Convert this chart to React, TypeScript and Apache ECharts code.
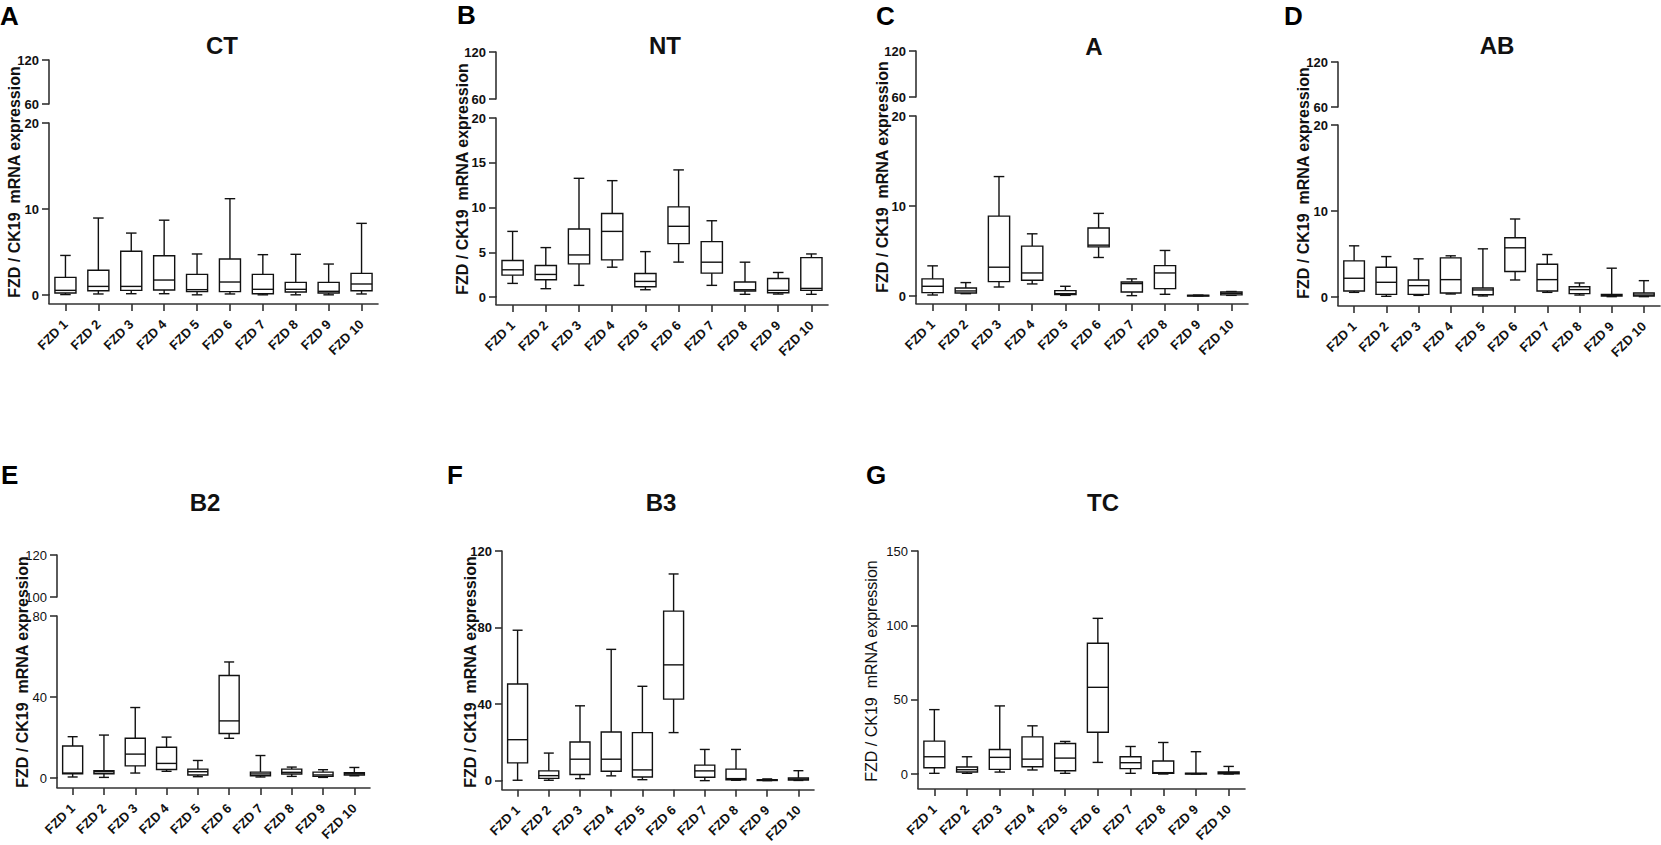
import React, { useEffect, useRef } from "react";
import * as echarts from "echarts";

const categories = ["FZD 1", "FZD 2", "FZD 3", "FZD 4", "FZD 5", "FZD 6", "FZD 7", "FZD 8", "FZD 9", "FZD 10"];

// each box: [min, Q1, median, Q3, max]
const ctBoxes = [
  [0.05, 0.23, 0.54, 2.05, 4.6],
  [0.12, 0.5, 1.0, 2.87, 8.95],
  [0.15, 0.54, 1.0, 5.08, 7.2],
  [0.15, 0.58, 1.74, 4.57, 8.7],
  [0.02, 0.39, 0.62, 2.4, 4.77],
  [0.12, 0.39, 1.51, 4.19, 11.2],
  [0.02, 0.15, 0.66, 2.4, 4.69],
  [0.02, 0.35, 0.66, 1.47, 4.73],
  [0.02, 0.23, 0.43, 1.47, 3.6],
  [0.12, 0.5, 1.28, 2.52, 8.33],
];
const ntBoxes = [
  [1.52, 2.44, 3.04, 4.07, 7.33],
  [0.93, 1.93, 2.52, 3.52, 5.52],
  [1.3, 3.7, 4.7, 7.59, 13.26],
  [3.33, 4.15, 7.33, 9.33, 13.0],
  [0.81, 1.15, 1.74, 2.63, 5.07],
  [3.9, 5.96, 7.9, 10.07, 14.2],
  [1.3, 2.67, 3.89, 6.19, 8.52],
  [0.3, 0.67, 0.81, 1.67, 3.89],
  [0.33, 0.48, 0.74, 2.07, 2.74],
  [0.3, 0.74, 0.96, 4.4, 4.81],
];
const aBoxes = [
  [0.11, 0.37, 1.08, 1.9, 3.35],
  [0.26, 0.33, 0.56, 0.89, 1.49],
  [1.0, 1.6, 3.2, 8.88, 13.27],
  [1.34, 1.75, 2.56, 5.54, 6.91],
  [0.07, 0.15, 0.26, 0.6, 1.08],
  [4.28, 5.46, 5.65, 7.55, 9.18],
  [0.04, 0.45, 1.38, 1.56, 1.9],
  [0.19, 0.82, 2.56, 3.38, 5.06],
  [0.0, 0.03, 0.05, 0.08, 0.1],
  [0.07, 0.12, 0.3, 0.45, 0.5],
];
const abBoxes = [
  [0.54, 0.7, 2.18, 4.2, 5.95],
  [0.08, 0.31, 1.71, 3.46, 4.7],
  [0.19, 0.31, 1.32, 1.98, 4.44],
  [0.35, 0.47, 2.02, 4.55, 4.79],
  [0.12, 0.27, 0.82, 1.05, 5.6],
  [1.98, 2.96, 5.72, 6.89, 9.07],
  [0.54, 0.7, 2.02, 3.81, 4.94],
  [0.23, 0.39, 0.86, 1.2, 1.63],
  [0.04, 0.12, 0.2, 0.31, 3.35],
  [0.04, 0.12, 0.23, 0.47, 1.9],
];
const b2Boxes = [
  [0.5, 2.1, 2.45, 15.8, 20.4],
  [0.3, 2.1, 3.1, 3.6, 21.2],
  [2.45, 6.0, 11.8, 19.6, 34.8],
  [3.3, 4.2, 7.2, 15.2, 20.2],
  [0.65, 1.47, 3.1, 4.4, 8.65],
  [19.6, 22.0, 28.2, 50.6, 57.3],
  [0.5, 1.1, 2.0, 2.9, 11.1],
  [0.8, 2.0, 2.8, 4.4, 5.4],
  [0.3, 0.8, 1.5, 2.9, 4.1],
  [1.1, 1.5, 2.1, 2.6, 5.2],
];
const b3Boxes = [
  [0.2, 9.3, 21.4, 50.5, 78.6],
  [0.2, 1.2, 2.6, 5.1, 14.4],
  [1.05, 3.2, 11.2, 20.2, 39.1],
  [2.5, 4.9, 11.2, 25.4, 68.6],
  [0.5, 1.9, 5.6, 25.1, 49.3],
  [25.1, 42.6, 60.5, 88.6, 108],
  [0.0, 1.75, 5.1, 8.1, 16.3],
  [0.2, 0.5, 1.05, 6.0, 16.3],
  [0.0, 0.2, 0.35, 0.5, 0.9],
  [0.1, 0.35, 0.8, 1.4, 5.2],
];
const tcBoxes = [
  [0.45, 4.2, 11.6, 22.1, 43.3],
  [0.45, 1.3, 2.9, 4.7, 11.6],
  [1.3, 3.1, 11.2, 16.5, 45.8],
  [2.7, 4.9, 10.0, 25.0, 32.4],
  [0.45, 2.2, 10.7, 20.5, 21.9],
  [7.8, 28.1, 58.3, 87.9, 104.7],
  [0.45, 3.6, 7.6, 11.6, 18.5],
  [0.0, 0.45, 0.9, 8.7, 21.2],
  [0.0, 0.1, 0.3, 0.5, 15.0],
  [0.0, 0.2, 0.9, 1.3, 5.1],
];

// tick labels (lower / main segment and the upper segment of the broken axes)
const ctTicks = [0, 10, 20];
const ntTicks = [0, 5, 10, 15, 20];
const aTicks = [0, 10, 20];
const abTicks = [0, 10, 20];
const b2Ticks = [0, 40, 80];
const b3Ticks = [0, 40, 80, 120];
const tcTicks = [0, 50, 100, 150];
const upperTicks = [60, 120];
const b2UpperTicks = [100, 120];

const yAxisTitle = "FZD / CK19  mRNA expression";
const FONT = '"Liberation Sans", Arial, Helvetica, sans-serif';
const INK = "#111";
const AXIS = "#333";
const AXIS_W = 1.6;

type Panel = {
  letter: string;
  title: string;
  boxes: number[][];
  ticks: number[];
  upper?: { ticks: number[]; topY: number; bottomY: number };
  yx: number;
  xEnd: number;
  xAxisY: number;
  topY: number;
  zeroY: number;
  titlePos: [number, number];
  letterPos: [number, number];
  yTitlePos: [number, number];
  boldLabels: boolean;
  boldYTitle: boolean;
};

const panels: Panel[] = [
  { letter: "A", title: "CT", boxes: ctBoxes, ticks: ctTicks, upper: { ticks: upperTicks, topY: 60, bottomY: 104 },
    yx: 49, xEnd: 378, xAxisY: 304, topY: 123, zeroY: 295, titlePos: [222, 45], letterPos: [0, 16], yTitlePos: [14, 182], boldLabels: true, boldYTitle: true },
  { letter: "B", title: "NT", boxes: ntBoxes, ticks: ntTicks, upper: { ticks: upperTicks, topY: 52, bottomY: 99 },
    yx: 496, xEnd: 828, xAxisY: 305, topY: 118, zeroY: 297, titlePos: [665, 45], letterPos: [457, 15], yTitlePos: [462, 179], boldLabels: true, boldYTitle: true },
  { letter: "C", title: "A", boxes: aBoxes, ticks: aTicks, upper: { ticks: upperTicks, topY: 51, bottomY: 97 },
    yx: 916, xEnd: 1248, xAxisY: 304, topY: 116, zeroY: 296, titlePos: [1094, 46], letterPos: [876, 16], yTitlePos: [882, 177], boldLabels: true, boldYTitle: true },
  { letter: "D", title: "AB", boxes: abBoxes, ticks: abTicks, upper: { ticks: upperTicks, topY: 62, bottomY: 107 },
    yx: 1338, xEnd: 1660, xAxisY: 306, topY: 125, zeroY: 297, titlePos: [1497, 45], letterPos: [1284, 16], yTitlePos: [1303, 183], boldLabels: true, boldYTitle: true },
  { letter: "E", title: "B2", boxes: b2Boxes, ticks: b2Ticks, upper: { ticks: b2UpperTicks, topY: 555, bottomY: 597 },
    yx: 57, xEnd: 370, xAxisY: 788, topY: 616, zeroY: 778, titlePos: [205, 502], letterPos: [1, 475], yTitlePos: [22, 672], boldLabels: false, boldYTitle: true },
  { letter: "F", title: "B3", boxes: b3Boxes, ticks: b3Ticks,
    yx: 502, xEnd: 814, xAxisY: 790, topY: 551, zeroY: 781, titlePos: [661, 502], letterPos: [447, 475], yTitlePos: [470, 672], boldLabels: true, boldYTitle: true },
  { letter: "G", title: "TC", boxes: tcBoxes, ticks: tcTicks,
    yx: 918, xEnd: 1245, xAxisY: 789, topY: 551, zeroY: 774, titlePos: [1103, 502], letterPos: [866, 475], yTitlePos: [871, 671], boldLabels: false, boldYTitle: false },
];

function renderBox(params: any, api: any) {
  const i = api.value(0);
  const pMin = api.coord([i, api.value(1)]);
  const pQ1 = api.coord([i, api.value(2)]);
  const pMed = api.coord([i, api.value(3)]);
  const pQ3 = api.coord([i, api.value(4)]);
  const pMax = api.coord([i, api.value(5)]);
  const band = api.size([1, 0])[0];
  const bw = band * 0.64;
  const cw = band * 0.32;
  const x = pMed[0];
  const st = { stroke: INK, lineWidth: 1.4, fill: "none" };
  return {
    type: "group",
    children: [
      { type: "line", shape: { x1: x, y1: pMin[1], x2: x, y2: pQ1[1] }, style: st },
      { type: "line", shape: { x1: x, y1: pQ3[1], x2: x, y2: pMax[1] }, style: st },
      { type: "line", shape: { x1: x - cw / 2, y1: pMin[1], x2: x + cw / 2, y2: pMin[1] }, style: st },
      { type: "line", shape: { x1: x - cw / 2, y1: pMax[1], x2: x + cw / 2, y2: pMax[1] }, style: st },
      { type: "rect", shape: { x: x - bw / 2, y: pQ3[1], width: bw, height: Math.max(pQ1[1] - pQ3[1], 0.8) }, style: { stroke: INK, lineWidth: 1.4, fill: "#fff" } },
      { type: "line", shape: { x1: x - bw / 2, y1: pMed[1], x2: x + bw / 2, y2: pMed[1] }, style: st },
    ],
  };
}

function buildOption() {
  const grid: any[] = [];
  const xAxis: any[] = [];
  const yAxis: any[] = [];
  const series: any[] = [];
  const graphic: any[] = [];

  const axisLine = { show: true, onZero: false, lineStyle: { color: AXIS, width: AXIS_W } };
  const axisTick = { show: true, length: 7, lineStyle: { color: AXIS, width: AXIS_W } };

  panels.forEach((p) => {
    const yLabel = {
      show: true,
      color: INK,
      fontSize: 13,
      fontWeight: p.boldLabels ? "bold" : "normal",
      fontFamily: FONT,
      margin: 10,
      showMinLabel: true,
      showMaxLabel: true,
    };

    // lower (main) grid: y from 0 to top value; x axis pushed down below zero
    const gi = grid.length;
    grid.push({ left: p.yx, top: p.topY, width: p.xEnd - p.yx, height: p.zeroY - p.topY, containLabel: false });
    xAxis.push({
      type: "category",
      gridIndex: gi,
      data: categories,
      boundaryGap: true,
      offset: p.xAxisY - p.zeroY,
      axisLine,
      axisTick: { ...axisTick, alignWithLabel: true },
      axisLabel: { interval: 0, rotate: 45, color: INK, fontSize: 13, fontWeight: "bold", fontFamily: FONT, margin: 18 },
      splitLine: { show: false },
    });
    yAxis.push({
      type: "value",
      gridIndex: gi,
      min: p.ticks[0],
      max: p.ticks[p.ticks.length - 1],
      interval: p.ticks[1] - p.ticks[0],
      axisLine,
      axisTick,
      axisLabel: yLabel,
      splitLine: { show: false },
    });
    series.push({
      type: "custom",
      xAxisIndex: gi,
      yAxisIndex: gi,
      renderItem: renderBox,
      encode: { x: 0, y: [1, 2, 3, 4, 5] },
      data: p.boxes.map((b, i) => [i, ...b]),
      clip: false,
      silent: true,
    });

    // y axis line continues down to the x axis (below the zero tick)
    graphic.push({
      type: "line",
      silent: true,
      shape: { x1: p.yx, y1: p.zeroY - 1, x2: p.yx, y2: p.xAxisY },
      style: { stroke: AXIS, lineWidth: AXIS_W },
    });

    if (p.upper) {
      const ui = grid.length;
      const u = p.upper;
      grid.push({ left: p.yx, top: u.topY, width: p.xEnd - p.yx, height: u.bottomY - u.topY, containLabel: false });
      xAxis.push({ type: "category", gridIndex: ui, data: categories, show: false });
      yAxis.push({
        type: "value",
        gridIndex: ui,
        min: u.ticks[0],
        max: u.ticks[u.ticks.length - 1],
        interval: u.ticks[1] - u.ticks[0],
        axisLine,
        axisTick,
        axisLabel: yLabel,
        splitLine: { show: false },
      });
    }

    graphic.push({
      type: "text",
      x: p.titlePos[0],
      y: p.titlePos[1],
      style: { text: p.title, fill: INK, fontSize: 24, fontWeight: "bold", fontFamily: FONT, textAlign: "center", textVerticalAlign: "middle" },
    });
    graphic.push({
      type: "text",
      x: p.letterPos[0],
      y: p.letterPos[1],
      style: { text: p.letter, fill: "#000", fontSize: 26, fontWeight: "bold", fontFamily: FONT, textAlign: "left", textVerticalAlign: "middle" },
    });
    graphic.push({
      type: "text",
      x: p.yTitlePos[0],
      y: p.yTitlePos[1],
      rotation: Math.PI / 2,
      style: {
        text: yAxisTitle,
        fill: INK,
        fontSize: 16,
        fontWeight: p.boldYTitle ? "bold" : "normal",
        fontFamily: FONT,
        textAlign: "center",
        textVerticalAlign: "middle",
      },
    });
  });

  return {
    animation: false,
    backgroundColor: "#ffffff",
    grid,
    xAxis,
    yAxis,
    series,
    graphic: { elements: graphic },
  };
}

export default function App() {
  const ref = useRef<HTMLDivElement>(null);
  useEffect(() => {
    if (!ref.current) return;
    const chart = echarts.init(ref.current, undefined, { renderer: "svg" });
    chart.setOption(buildOption() as any);
    return () => chart.dispose();
  }, []);
  return (
    <div
      ref={ref}
      style={{ position: "fixed", left: 0, top: 0, width: 1661, height: 845, background: "#fff" }}
    />
  );
}
